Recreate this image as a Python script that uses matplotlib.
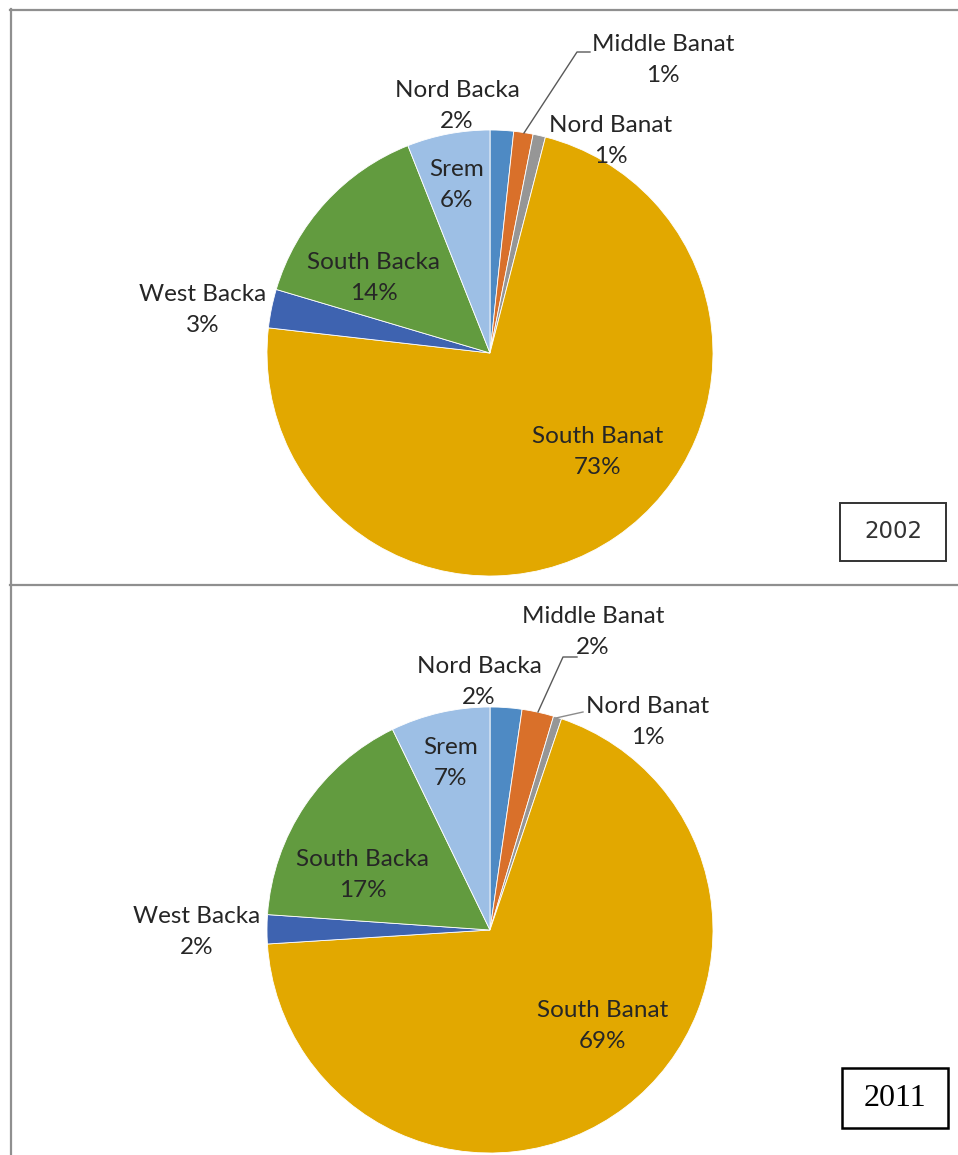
import matplotlib
matplotlib.use("Agg")
import matplotlib.pyplot as plt
from matplotlib.patches import Rectangle
from matplotlib.lines import Line2D

W, H = 958, 1155

regions = ["Nord Backa", "Middle Banat", "Nord Banat", "South Banat",
           "West Backa", "South Backa", "Srem"]
share_2002 = [1.7, 1.4, 0.9, 72.8, 2.8, 14.4, 6.0]
share_2011 = [2.3, 2.3, 0.6, 68.8, 2.1, 16.7, 7.2]
years = ["2002", "2011"]

colors = ["#4E8AC4", "#D9702A", "#969696", "#E2A800",
          "#3E63B0", "#629B3F", "#9DBFE5"]

TXT = "#262626"
FONT = "Lato"
FS = 17.5

fig = plt.figure(figsize=(W / 100, H / 100), dpi=100)
ax = fig.add_axes([0, 0, 1, 1])


def Y(y):
    return H - y


# label centers (pixel coords, top-left origin) for each panel
label_pos = {
    "2002": {
        "Nord Backa": (457, 106), "Middle Banat": (663, 60), "Nord Banat": (611, 141),
        "South Banat": (598, 452), "West Backa": (203, 310), "South Backa": (374, 278),
        "Srem": (457, 185),
    },
    "2011": {
        "Nord Backa": (479, 682), "Middle Banat": (593, 632), "Nord Banat": (648, 722),
        "South Banat": (603, 1026), "West Backa": (197, 932), "South Backa": (363, 875),
        "Srem": (451, 763),
    },
}
centers = {"2002": (490, 353), "2011": (490, 930)}
R = 223

for year, vals in zip(years, [share_2002, share_2011]):
    cx, cy = centers[year]
    ax.pie(vals, colors=colors, startangle=90, counterclock=False,
           center=(cx, Y(cy)), radius=R, frame=True,
           wedgeprops=dict(edgecolor="white", linewidth=0.6))

ax.set_xlim(0, W)
ax.set_ylim(0, H)
ax.set_aspect("auto")
ax.axis("off")

for year, vals in zip(years, [share_2002, share_2011]):
    total = sum(vals)
    for name, v in zip(regions, vals):
        lx, ly = label_pos[year][name]
        ax.text(lx, Y(ly), f"{name}\n{round(v / total * 100)}%",
                ha="center", va="center", fontsize=FS, family=FONT,
                color=TXT, linespacing=1.55)

# leader lines
lc = "#595959"
ax.plot([524, 577, 590], [Y(133), Y(52), Y(52)], color=lc, lw=1.0)
ax.plot([538, 563, 577], [Y(712), Y(657), Y(657)], color=lc, lw=1.0)
ax.plot([556, 583], [Y(718), Y(712)], color="#8c8c8c", lw=1.0)

# frame lines
fc = "#8f8f8f"
fig.add_artist(Line2D([10.5 / W, 10.5 / W], [0, 1 - 9 / H], color=fc, lw=1.6,
                      transform=fig.transFigure))
fig.add_artist(Line2D([10 / W, 1], [1 - 9.5 / H, 1 - 9.5 / H], color=fc, lw=1.6,
                      transform=fig.transFigure))
fig.add_artist(Line2D([10 / W, 1], [1 - 585 / H, 1 - 585 / H], color=fc, lw=1.6,
                      transform=fig.transFigure))

# year boxes
ax.add_patch(Rectangle((840, Y(561)), 106, 58, fill=False, edgecolor="#333333", lw=1.4))
ax.text(893, Y(532), years[0], ha="center", va="center", fontsize=16.5,
        family="DejaVu Sans", color="#333333")
ax.add_patch(Rectangle((842, Y(1128)), 106, 60, fill=False, edgecolor="black", lw=1.8))
ax.text(895, Y(1098), years[1], ha="center", va="center", fontsize=23,
        family="Liberation Serif", color="black")

fig.savefig("out.png", dpi=100)
